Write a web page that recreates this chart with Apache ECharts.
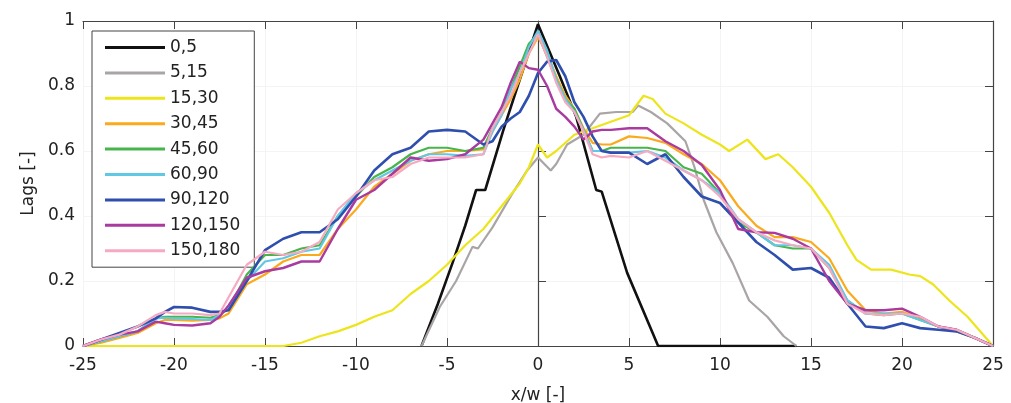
<!DOCTYPE html>
<html><head><meta charset="utf-8">
<script src="https://cdn.jsdelivr.net/npm/echarts@6/dist/echarts.min.js"></script>
<style>html,body{margin:0;padding:0;background:#fff}#c{width:1011px;height:403px}</style>
</head><body><div id="c"></div>
<script>
// shared x grid for the 6 "group" series
const xs = [-25,-24,-23,-22,-21,-20.5,-20,-19,-18,-17.5,-17,-16,-15,-14,-13,-12,-11,-10,-9,-8,-7,-6,-5,-4,-3,-2.5,-2,-1.5,-1,-0.5,0,0.5,1,1.5,2,2.5,3,3.5,4,5,6,7,8,9,10,11,12,13,14,15,16,17,18,19,20,21,22,23,24,25];

const s30_45 = [0,0.01,0.025,0.04,0.07,0.08,0.08,0.078,0.08,0.085,
  0.1,0.19,0.22,0.26,0.28,0.28,0.36,0.42,0.49,0.53,
  0.57,0.59,0.6,0.6,0.605,0.66,0.71,0.76,0.82,0.9,
  0.95,0.9,0.83,0.77,0.73,0.67,0.625,0.62,0.62,0.645,
  0.64,0.625,0.59,0.56,0.51,0.43,0.37,0.335,0.335,0.32,
  0.27,0.17,0.11,0.1,0.105,0.085,0.06,0.05,0.025,0];
const s45_60 = [0,0.015,0.03,0.045,0.085,0.09,0.09,0.09,0.087,0.095,
  0.115,0.22,0.28,0.28,0.3,0.31,0.4,0.46,0.52,0.55,
  0.59,0.61,0.61,0.6,0.61,0.67,0.72,0.79,0.86,0.93,
  0.96,0.89,0.82,0.76,0.73,0.665,0.6,0.6,0.61,0.61,
  0.61,0.6,0.55,0.53,0.47,0.38,0.35,0.31,0.3,0.3,
  0.24,0.14,0.1,0.095,0.1,0.08,0.06,0.045,0.025,0];
const s60_90 = [0,0.015,0.03,0.045,0.085,0.087,0.085,0.083,0.08,0.095,
  0.12,0.2,0.26,0.27,0.29,0.3,0.4,0.47,0.51,0.54,
  0.57,0.59,0.59,0.585,0.59,0.66,0.71,0.79,0.84,0.92,
  0.97,0.91,0.82,0.76,0.72,0.665,0.6,0.6,0.595,0.595,
  0.6,0.58,0.54,0.51,0.47,0.39,0.35,0.31,0.31,0.3,
  0.25,0.14,0.1,0.1,0.1,0.08,0.06,0.05,0.025,0];
const s90_120 = [0,0.02,0.04,0.06,0.085,0.105,0.12,0.118,0.105,0.105,
  0.11,0.2,0.295,0.33,0.35,0.35,0.39,0.46,0.54,0.59,
  0.61,0.66,0.665,0.66,0.62,0.63,0.675,0.70,0.72,0.77,
  0.84,0.875,0.88,0.83,0.75,0.705,0.645,0.6,0.595,0.595,
  0.56,0.59,0.52,0.46,0.44,0.38,0.32,0.28,0.235,0.24,
  0.21,0.13,0.06,0.055,0.07,0.055,0.05,0.045,0.025,0];
const s120_150 = [0,0.02,0.035,0.045,0.075,0.07,0.065,0.063,0.07,0.09,
  0.125,0.21,0.23,0.24,0.26,0.26,0.36,0.45,0.48,0.53,
  0.58,0.57,0.575,0.59,0.635,0.685,0.735,0.81,0.875,0.855,
  0.85,0.8,0.73,0.705,0.675,0.635,0.66,0.665,0.665,0.67,
  0.67,0.63,0.6,0.557,0.48,0.36,0.35,0.348,0.33,0.3,
  0.2,0.13,0.11,0.11,0.115,0.09,0.06,0.05,0.025,0];
const s150_180 = [0,0.02,0.035,0.06,0.095,0.105,0.1,0.1,0.095,0.1,
  0.15,0.25,0.29,0.28,0.29,0.32,0.42,0.47,0.51,0.52,
  0.56,0.58,0.58,0.58,0.59,0.67,0.72,0.77,0.84,0.9,
  0.96,0.89,0.81,0.75,0.72,0.66,0.59,0.58,0.585,0.58,
  0.6,0.57,0.54,0.51,0.46,0.39,0.35,0.325,0.31,0.3,
  0.24,0.13,0.1,0.095,0.1,0.09,0.06,0.05,0.025,0];

// own x grids
const x0_5 = [-6.4,-5.5,-4.7,-4,-3.4,-2.9,-1.9,-1,0,1.2,2.1,3.2,3.5,4.9,6.3,6.6,14.2];
const s0_5 = [0,0.13,0.255,0.37,0.48,0.48,0.665,0.82,0.99,0.83,0.705,0.48,0.475,0.225,0.04,0,0];
const x5_15 = [-6.4,-5.4,-4.5,-3.6,-3.3,-2.5,-1.4,-0.6,0,0.7,1.0,1.6,2.5,3.4,4.3,5.2,5.5,6.2,7.1,8.1,8.6,9.1,9.8,10.7,11.6,12.6,13.5,14.2];
const s5_15 = [0,0.12,0.2,0.305,0.3,0.365,0.47,0.54,0.58,0.54,0.56,0.62,0.65,0.715,0.72,0.72,0.74,0.72,0.685,0.63,0.55,0.45,0.35,0.255,0.14,0.09,0.03,0];
const x15_30 = [-25,-14,-13,-12,-11,-10,-9,-8,-7,-6,-5,-4,-3,-2,-1,-0.5,0,0.5,1,2,3,4,5,5.8,6.3,7,8,9,10,10.5,11.5,12.5,13.2,14,15,16,17,17.5,18.3,19.4,20.4,21,21.7,22.6,23.6,25];
const s15_30 = [0,0,0.01,0.03,0.045,0.065,0.09,0.11,0.16,0.2,0.25,0.31,0.36,0.43,0.5,0.55,0.62,0.58,0.6,0.65,0.67,0.69,0.71,0.77,0.76,0.715,0.685,0.65,0.62,0.6,0.635,0.575,0.59,0.55,0.49,0.41,0.31,0.265,0.235,0.235,0.22,0.215,0.19,0.14,0.09,0];

const names = ['0,5','5,15','15,30','30,45','45,60','60,90','90,120','120,150','150,180'];
const colors = ['#111111','#aaa5a5','#ede51c','#fbaa1e','#47b54b','#60c8e4','#2e4fae','#a93aa0','#f6aac2'];
const widths = [2.6,2.2,2.2,2.2,2.2,2.2,2.6,2.4,2.2];
const xsets = [x0_5,x5_15,x15_30,xs,xs,xs,xs,xs,xs];
const ysets = [s0_5,s5_15,s15_30,s30_45,s45_60,s60_90,s90_120,s120_150,s150_180];

const FONT = 'DejaVu Sans';
const axisCol = '#444';
const series = names.map((n,i)=>({
  name:n, type:'line', symbol:'none', showSymbol:false, animation:false,
  data: xsets[i].map((x,j)=>[x, ysets[i][j]]),
  lineStyle:{color:colors[i], width:widths[i]}, itemStyle:{color:colors[i]},
  z: 2+i
}));

const chart = echarts.init(document.getElementById('c'), null, {renderer:'canvas'});
chart.setOption({
  animation:false,
  backgroundColor:'#fff',
  grid:{left:83, right:18, top:21, bottom:57, containLabel:false, outerBoundsMode:'none'},
  legend:{
    data:names.map((n,i)=>({name:n, icon:'rect', itemStyle:{color:colors[i]}})),
    orient:'vertical', left:92, top:31,
    itemWidth:60, itemHeight:3, itemGap:8.4,
    padding:[8,14,8,13],
    backgroundColor:'#fff', borderColor:'#444', borderWidth:1,
    textStyle:{fontFamily:FONT, fontSize:17, color:'#222', lineHeight:17},
    selectedMode:false
  },
  xAxis:[{
    type:'value', min:-25, max:25, interval:5,
    name:'x/w [-]', nameLocation:'middle', nameGap:41,
    nameTextStyle:{fontFamily:FONT, fontSize:17, color:'#222'},
    axisLine:{show:true, lineStyle:{color:axisCol, width:1.2}},
    axisTick:{inside:true, length:8, lineStyle:{color:axisCol}},
    axisLabel:{fontFamily:FONT, fontSize:17, color:'#222', margin:11},
    splitLine:{show:true, lineStyle:{color:'#f4f4f4', width:1}}
  },{
    type:'value', min:-25, max:25, interval:5, position:'top',
    axisLine:{show:true, onZero:false, lineStyle:{color:axisCol, width:1.2}},
    axisTick:{inside:true, length:8, lineStyle:{color:axisCol}},
    axisLabel:{show:false}, splitLine:{show:false}
  }],
  yAxis:[{
    type:'value', min:0, max:1, interval:0.2,
    name:'Lags [-]', nameLocation:'middle', nameGap:46, nameRotate:90,
    nameTextStyle:{fontFamily:FONT, fontSize:17, color:'#222'},
    axisLine:{show:true, lineStyle:{color:axisCol, width:1.2}},
    axisTick:{show:true, inside:true, length:8, lineStyle:{color:axisCol}},
    axisLabel:{fontFamily:FONT, fontSize:17, color:'#222', margin:8},
    splitLine:{show:true, lineStyle:{color:'#f4f4f4', width:1}}
  },{
    type:'value', min:0, max:1, interval:0.2, position:'right',
    axisLine:{show:true, onZero:false, lineStyle:{color:axisCol, width:1.2}},
    axisTick:{show:true, inside:true, length:8, lineStyle:{color:axisCol}},
    axisLabel:{show:false}, splitLine:{show:false}
  }],
  series: series
});
</script></body></html>
